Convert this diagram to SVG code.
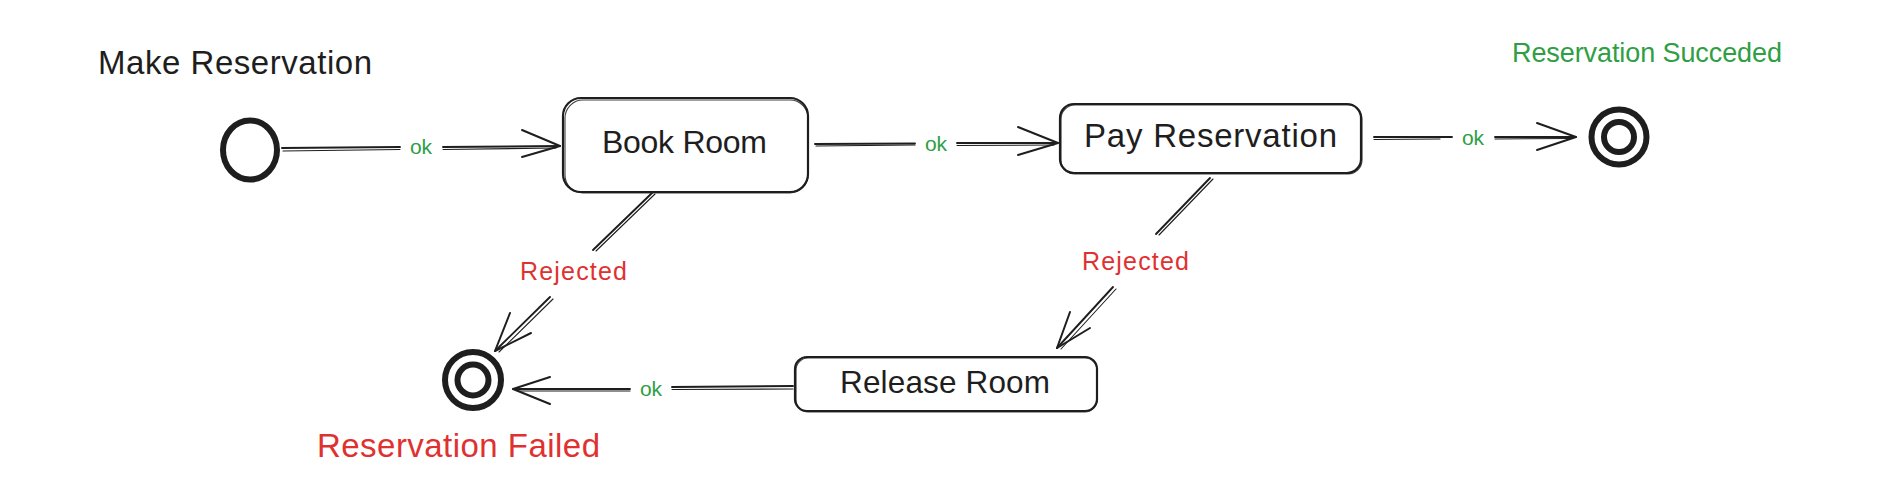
<svg xmlns="http://www.w3.org/2000/svg" width="1882" height="490" viewBox="0 0 1882 490">
<style>
  .bg{fill:#ffffff}
  .box{fill:none;stroke:#1e1e1e;stroke-width:2.2;stroke-linejoin:round}
  .box2{fill:none;stroke:#1e1e1e;stroke-width:1.1;opacity:.85}
  .ring{fill:none;stroke:#1e1e1e;stroke-width:6}
  .ln{fill:none;stroke:#1e1e1e;stroke-width:1.9;stroke-linecap:round}
  .ln2{fill:none;stroke:#1e1e1e;stroke-width:1.1;stroke-linecap:round}
  .head{fill:none;stroke:#1e1e1e;stroke-width:2;stroke-linecap:round;stroke-linejoin:round}
  .t{font-family:"Liberation Sans","DejaVu Sans",sans-serif;fill:#1e1e1e}
  .green{fill:#2f9e44}
  .red{fill:#e03131}
  .ok{font-size:21px;text-anchor:middle}
</style>
<rect class="bg" x="0" y="0" width="1882" height="490"/>

<g id="connectors">
  <!-- start -> Book Room -->
  <path class="ln" d="M282 148 L400 147"/><path class="ln2" d="M283 151 L400 149.5"/>
  <path class="ln" d="M443 147 L560 146"/><path class="ln2" d="M443 149.5 L556 148"/>
  <path class="head" d="M522 130 L560 146 L522 157"/>
  <text class="t green ok" x="421" y="154">ok</text>

  <!-- Book Room -> Pay Reservation -->
  <path class="ln" d="M815 144 L915 143.5"/><path class="ln2" d="M816 146 L915 145"/>
  <path class="ln" d="M957 143 L1058 143"/><path class="ln2" d="M957 145.5 L1054 145"/>
  <path class="head" d="M1018 127 L1058 143 L1018 155"/>
  <text class="t green ok" x="936" y="151">ok</text>

  <!-- Pay Reservation -> success -->
  <path class="ln" d="M1374 137 L1452 137"/><path class="ln2" d="M1374 139.5 L1440 139"/>
  <path class="ln" d="M1495 137 L1576 137"/><path class="ln2" d="M1495 139 L1572 138.5"/>
  <path class="head" d="M1537 123 L1576 137 L1537 150"/>
  <text class="t green ok" x="1473" y="145">ok</text>

  <!-- Book Room -> Failed (Rejected) -->
  <path class="ln" d="M652 193 L593 250"/><path class="ln2" d="M655 194 L596 251"/>
  <path class="ln" d="M550 297 L495 351"/><path class="ln2" d="M553 299 L499 352"/>
  <path class="head" d="M510 313 L495 351 L531 333"/>
  <text class="t red" x="520" y="280" font-size="25" textLength="107">Rejected</text>

  <!-- Pay Reservation -> Release Room (Rejected) -->
  <path class="ln" d="M1210 178 L1156 234"/><path class="ln2" d="M1213 179 L1159 235"/>
  <path class="ln" d="M1113 287 L1057 348"/><path class="ln2" d="M1116 289 L1061 349"/>
  <path class="head" d="M1070 312 L1057 348 L1090 328"/>
  <text class="t red" x="1082" y="270" font-size="25" textLength="107">Rejected</text>

  <!-- Release Room -> Failed -->
  <path class="ln" d="M793 386 L672 387"/><path class="ln2" d="M793 389 L672 389.5"/>
  <path class="ln" d="M630 389 L513 389"/><path class="ln2" d="M630 391 L518 391"/>
  <path class="head" d="M550 377 L513 389 L550 404"/>
  <text class="t green ok" x="651" y="396">ok</text>
</g>

<g id="start">
  <ellipse class="ring" cx="250" cy="150" rx="27" ry="29.5"/>
  <text class="t" x="98" y="74" font-size="33" textLength="274">Make Reservation</text>
</g>

<g id="book-room">
  <rect class="box" x="563" y="98" width="245" height="94" rx="18"/>
  <rect class="box2" x="565" y="100" width="243" height="93" rx="18"/>
  <text class="t" x="602" y="153" font-size="32" textLength="165">Book Room</text>
</g>

<g id="pay-reservation">
  <rect class="box" x="1060" y="104" width="301" height="69" rx="14"/>
  <rect class="box2" x="1061" y="105" width="301" height="69" rx="14"/>
  <text class="t" x="1084" y="147" font-size="33" textLength="253">Pay Reservation</text>
</g>

<g id="release-room">
  <rect class="box" x="795" y="357" width="302" height="54" rx="12"/>
  <rect class="box2" x="796" y="358" width="301" height="54" rx="12"/>
  <text class="t" x="840" y="393" font-size="31.5" textLength="210">Release Room</text>
</g>

<g id="success">
  <circle class="ring" cx="1619" cy="137" r="27.5"/>
  <circle class="ring" cx="1619" cy="137" r="15"/>
  <text class="t green" x="1512" y="62" font-size="27" textLength="270">Reservation Succeded</text>
</g>

<g id="failed">
  <circle class="ring" cx="473" cy="380" r="28"/>
  <circle class="ring" cx="473" cy="380" r="15.5"/>
  <text class="t red" x="317" y="457" font-size="33" textLength="283">Reservation Failed</text>
</g>
</svg>
